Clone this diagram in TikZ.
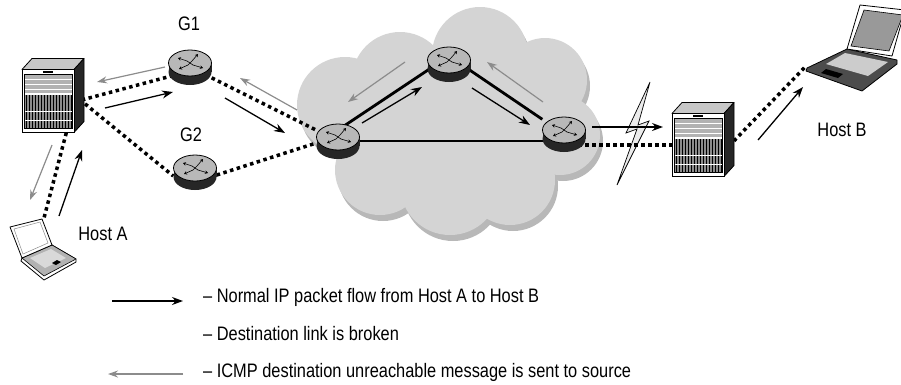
\documentclass[tikz,border=0pt]{standalone}
\usepackage{fontspec}
\setmainfont{Liberation Sans}[FakeStretch=0.84]
\usepackage{tikz}
\usetikzlibrary{arrows.meta,calc}

\definecolor{cloudgray}{gray}{0.83}
\definecolor{cloudshade}{gray}{0.72}
\definecolor{routergray}{gray}{0.72}
\definecolor{icmpgray}{gray}{0.55}

\tikzset{
  link/.style={line width=3.5pt, dash pattern=on 3.5pt off 3.5pt},
  trunk/.style={line width=2.8pt},
  flow/.style={line width=1.3pt, -{Stealth[length=11pt,width=8pt]}},
  icmp/.style={icmpgray, line width=1.2pt, -{Stealth[length=10pt,width=7pt]}},
  router/.style={shape=rectangle, minimum width=43pt, minimum height=34pt, inner sep=0pt},
  server/.style={shape=rectangle, minimum width=52pt, minimum height=63pt, inner sep=0pt},
  label/.style={font=\fontsize{19.5}{21}\selectfont, inner sep=0pt},
  pics/routericon/.style={code={
    \fill[black!85] (0,5) ellipse [x radius=21.5pt, y radius=13pt];
    \fill[black!85] (-21.5,-4) rectangle (21.5,5);
    \filldraw[fill=routergray, line width=.8pt] (0,-4) ellipse [x radius=21.5pt, y radius=13pt];
    \draw[line width=.6pt] (-3,-6) -- (3,-2) (2,-6) -- (-2,-2);
    \draw[line width=.6pt, -{Stealth[length=3pt,width=3.5pt]}]
      (-3,-6) -- (-12,-9);
    \draw[line width=.6pt, -{Stealth[length=3pt,width=3.5pt]}]
      (2,-6) -- (8,-13);
    \draw[line width=.6pt, -{Stealth[length=3pt,width=3.5pt]}]
      (-2,-2) -- (-11,2);
    \draw[line width=.6pt, -{Stealth[length=3pt,width=3.5pt]}]
      (3,-2) -- (13,1);
  }},
  pics/servericon/.style={code={
    \filldraw[fill=black!22, line width=.8pt, line join=round]
      (-26,-31.5) -- (-16,-42.5) -- (36,-42.5) -- (26,-31.5) -- cycle;
    \filldraw[fill=black!85, line width=.8pt, line join=round]
      (26,-31.5) -- (36,-42.5) -- (36,20.5) -- (26,31.5) -- cycle;
    \filldraw[fill=white, line width=1pt] (-26,-31.5) rectangle (26,31.5);
    \fill (-5,-30) rectangle (5,-28.5);
    \fill[black!30] (-24,-27) rectangle (24,-8);
    \foreach \y in {-22,-17,-12}
      \draw[white, line width=.8pt] (-24,\y) -- (24,\y);
    \fill[black!45] (-24,-6) rectangle (24,27);
    \foreach \x in {-22,-19,...,23}
      \draw[black, line width=.6pt] (\x,-6) -- (\x,27);
    \foreach \y in {10,19}
      \draw[white, line width=.7pt] (-24,\y) -- (24,\y);
    \draw[line width=.6pt] (-24,-27) rectangle (24,27);
  }},
}

\begin{document}
\begin{tikzpicture}[x=1pt, y=-1pt]
  \useasboundingbox (0,0) rectangle (901,384);

  % cloud
  \foreach \cx/\cy/\r in {345/105/48, 400/80/48, 480/55/48, 545/80/42, 560/135/40,
                          510/180/45, 450/185/50, 380/170/45, 460/120/60}
    \fill[cloudshade] (\cx+3,\cy+6) circle [radius=\r pt];
  \foreach \cx/\cy/\r in {345/105/48, 400/80/48, 480/55/48, 545/80/42, 560/135/40,
                          510/180/45, 450/185/50, 380/170/45, 460/120/60,
                          400/130/45, 520/130/45}
    \fill[cloudgray] (\cx,\cy) circle [radius=\r pt];

  % broken link
  \filldraw[fill=black!8, line width=.7pt, line join=miter]
    (650,82) -- (626,133) -- (637,129) -- (617,185) -- (649,121) -- (638,125) -- cycle;

  \node[server] (srvA) at (48,101) {};
  \node[server] (srvB) at (698,145) {};
  \node[router] (g1) at (190,67) {};
  \node[router] (g2) at (195,172) {};
  \node[router] (r1) at (338,141) {};
  \node[router] (r2) at (449,64) {};
  \node[router] (r3) at (564,134) {};
  \coordinate (lapA) at (44,218);
  \coordinate (lapB) at (806,66);

  \draw[link] ([yshift=-8pt]srvA.center) -- ([yshift=-4pt]g1.center);
  \draw[link] ([yshift=6pt]srvA.east) -- ([yshift=-4pt]g2.west);
  \draw[link] (g1) -- (r1);
  \draw[link] ([yshift=-3pt]g2.east) -- ([yshift=-2pt]r1.west);
  \draw[link] (srvA.-60) -- (lapA);
  \draw[link] (r3 |- srvB) -- (srvB);
  \draw[link] ([yshift=-6pt]srvB.east) -- (lapB);
  \draw[trunk] ([yshift=11pt]r1.center) -- ([yshift=8pt]r2.center) -- (r3);
  \draw[trunk] (r1) -- (r1 -| r3);

  \foreach \n in {g1,g2,r1,r2,r3}
    \pic at (\n) {routericon};
  \foreach \n in {srvA,srvB}
    \pic at (\n) {servericon};

  % Host A laptop
  \filldraw[fill=white, line width=.8pt, line join=round]
    (22,258) -- (52,245) -- (76,259) -- (76,262) -- (44,280) -- (21,261) -- cycle;
  \filldraw[fill=black!30, line width=.6pt, line join=round]
    (22,258) -- (52,245) -- (76,259) -- (44,276) -- cycle;
  \fill[black!15] (30,258) -- (51,249) -- (66,258) -- (45,268) -- cycle;
  \fill (52,263) -- (57,260) -- (61,262) -- (56,265) -- cycle;
  \filldraw[fill=white, line width=.8pt, line join=round]
    (10,227) -- (42,219) -- (52,245) -- (22,258) -- cycle;
  \draw[black!45, line width=.5pt] (14,229) -- (40,222) -- (48,243) -- (23,254) -- cycle;

  % Host B laptop
  \filldraw[fill=black!70, line width=.8pt, line join=round]
    (847,49) -- (897,60) -- (897,64) -- (862,91) -- (806,71) -- (807,68) -- cycle;
  \fill[black!20] (845,53) -- (888,62) -- (868,76) -- (826,64) -- cycle;
  \fill (826,69) -- (843,74) -- (838,78) -- (821,73) -- cycle;
  \filldraw[fill=white, line width=.8pt, line join=round]
    (860,5) -- (905,10) -- (892,56) -- (847,49) -- cycle;
  \filldraw[fill=black!40, line width=.6pt]
    (864,10) -- (903,15) -- (889,51) -- (851,46) -- cycle;

  % packets from Host A to Host B
  \draw[flow] ($(lapA)+(15,-2)$) -- ($(srvA)+(34,49)$);
  \draw[flow] ($(srvA)+(57,7)$) -- ($(g1)+(-17,25)$);
  \draw[flow] ($(g1)+(35,31)$) -- ($(r1)+(-53,-8)$);
  \draw[flow] ($(r1)+(24,-18)$) -- ($(r2)+(-27,23)$);
  \draw[flow] ($(r2)+(23,24)$) -- ($(r3)+(-34,-9)$);
  \draw[flow] ($(r3)+(28,-7)$) -- ($(srvB)+(-35,-18)$);
  \draw[flow] ($(srvB)+(60,-5)$) -- ($(lapB)+(-3,21)$);

  % ICMP back to the source
  \draw[icmp] ($(g1)+(-25,0)$) -- ($(srvA)+(49,-19)$);
  \draw[icmp] ($(r1)+(-41,-31)$) -- ($(g1)+(50,11)$);
  \draw[icmp] ($(r2)+(-44,-2)$) -- ($(r1)+(10,-39)$);
  \draw[icmp] ($(r3)+(-21,-32)$) -- ($(r2)+(38,-2)$);
  \draw[icmp] ($(srvA)+(4,44)$) -- ($(lapA)+(-14,-18)$);

  \node[label] (lblg1) at (189,24) {G1};
  \node[label] (lblg2) at (191,135) {G2};
  \node[label] (lblhosta) at (103,234) {Host A};
  \node[label] (lblhostb) at (842,130) {Host B};

  \node[label, anchor=base west] (txtflow) at (203,302) {– Normal IP packet flow from Host A to Host B};
  \node[label, anchor=base west] (txtbroken) at (203,340) {– Destination link is broken};
  \node[label, anchor=base west] (txticmp) at (203,377) {– ICMP destination unreachable message is sent to source};
  \draw[flow] ([xshift=-91pt,yshift=1pt]txtflow.base west) -- ([xshift=-20pt,yshift=1pt]txtflow.base west);
  \draw[icmp] ([xshift=-20pt,yshift=3pt]txticmp.base west) -- ([xshift=-95pt,yshift=3pt]txticmp.base west);
\end{tikzpicture}
\end{document}
